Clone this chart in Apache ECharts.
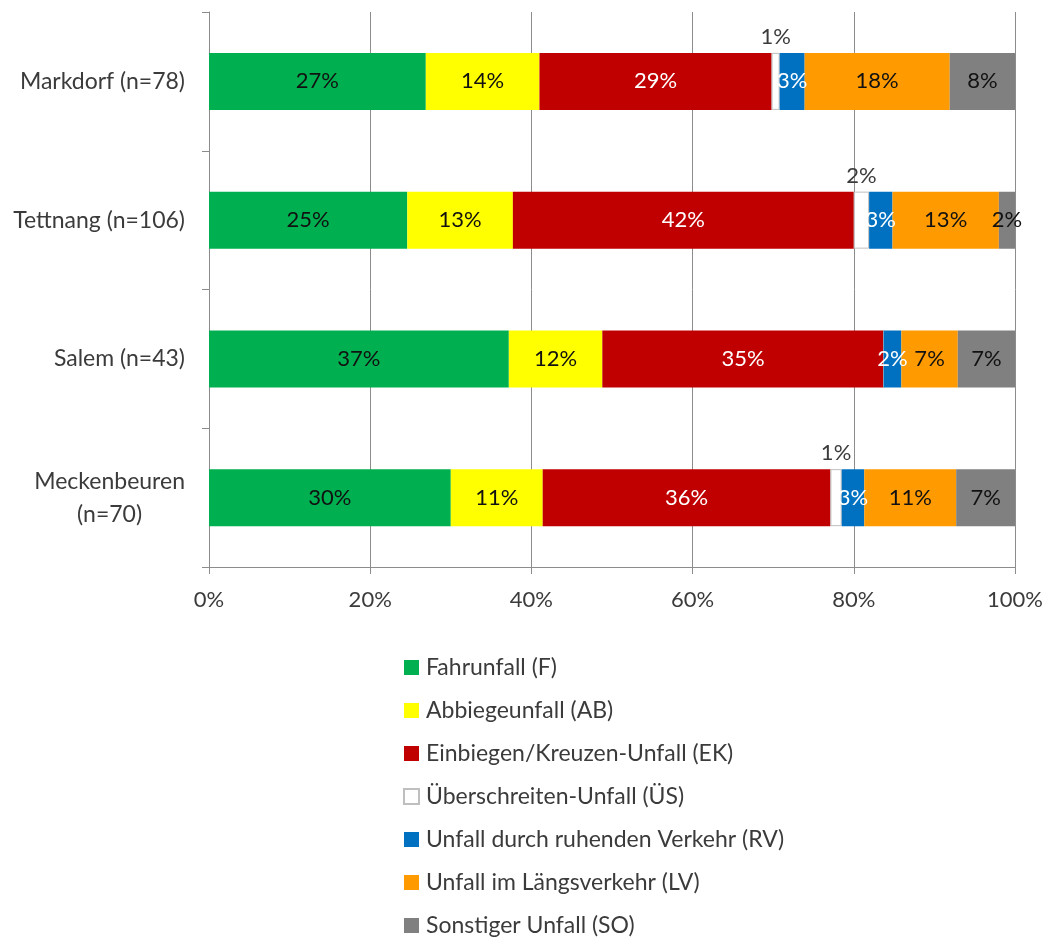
<!DOCTYPE html>
<html>
<head>
<meta charset="utf-8">
<title>Unfalltypen nach Gemeinde</title>
<script src="https://cdn.jsdelivr.net/npm/echarts@6/dist/echarts.min.js"></script>
<style>
  html, body { margin: 0; padding: 0; background: #ffffff; }
  #chart { width: 1051px; height: 940px; }
</style>
</head>
<body>
<div id="chart"></div>
<script>
// Gemeinden (top to bottom)
const categories = ['Markdorf (n=78)', 'Tettnang (n=106)', 'Salem (n=43)', 'Meckenbeuren\n(n=70)'];

// Share of each accident type per Gemeinde, in percent
const fahrunfall      = [26.9, 24.6, 37.2, 30.0];
const abbiegeunfall   = [14.1, 13.1, 11.6, 11.4];
const einbiegen       = [28.8, 42.3, 34.9, 35.7];
const ueberschreiten  = [1.0, 1.9, 0, 1.4];
const ruhenderVerkehr = [3.1, 2.9, 2.2, 2.8];
const laengsverkehr   = [18.0, 13.2, 7.0, 11.4];
const sonstige        = [8.1, 2.0, 7.1, 7.3];

const xTicks = [0, 20, 40, 60, 80, 100];

const FONT = 'Lato, "Open Sans", sans-serif';
const TEXT = '#3b3b3b';

function pctLabel(p) {
  const v = p.value;
  return v > 0 ? Math.round(v) + '%' : '';
}

function seriesFor(name, data, color, labelColor, extra) {
  return Object.assign({
    name: name,
    type: 'bar',
    stack: 'total',
    data: data,
    barWidth: 57,
    itemStyle: { color: color },
    label: {
      show: true,
      position: 'inside',
      formatter: pctLabel,
      color: labelColor,
      fontFamily: FONT,
      fontSize: 22
    },
    emphasis: { disabled: true }
  }, extra || {});
}

const chart = echarts.init(document.getElementById('chart'), null, { renderer: 'canvas' });

chart.setOption({
  animation: false,
  backgroundColor: '#ffffff',
  grid: { left: 209, right: 36, top: 12, bottom: 373, containLabel: false },
  xAxis: {
    type: 'value',
    min: 0,
    max: 100,
    interval: 20,
    axisLine: { show: true, lineStyle: { color: '#8c8c8c', width: 1 } },
    axisTick: { show: true, length: 7, lineStyle: { color: '#8c8c8c' } },
    splitLine: { show: true, lineStyle: { color: '#8c8c8c', width: 1 } },
    axisLabel: {
      margin: 22,
      color: TEXT,
      fontFamily: FONT,
      fontSize: 22,
      formatter: function (v) { return xTicks.indexOf(v) >= 0 ? v + '%' : ''; }
    }
  },
  yAxis: {
    type: 'category',
    data: categories,
    inverse: true,
    axisLine: { show: true, lineStyle: { color: '#8c8c8c', width: 1 } },
    axisTick: { show: true, length: 7, alignWithLabel: false, lineStyle: { color: '#8c8c8c' } },
    splitLine: { show: false },
    axisLabel: {
      margin: 24,
      color: TEXT,
      fontFamily: FONT,
      fontSize: 23,
      formatter: function (v) {
        return v.split('\n').map(function (line) { return '{c|' + line + '}'; }).join('\n');
      },
      rich: {
        c: { align: 'center', color: TEXT, fontFamily: FONT, fontSize: 23, lineHeight: 33 }
      }
    }
  },
  legend: {
    orient: 'vertical',
    left: 403,
    top: 656,
    height: 284,
    padding: 0,
    itemWidth: 15,
    itemHeight: 15,
    itemGap: 20,
    icon: 'rect',
    selectedMode: false,
    textStyle: { color: TEXT, fontFamily: FONT, fontSize: 23, lineHeight: 20.5, padding: [0, 0, 0, 2] },
    data: [
      'Fahrunfall (F)',
      'Abbiegeunfall (AB)',
      'Einbiegen/Kreuzen-Unfall (EK)',
      'Überschreiten-Unfall (ÜS)',
      'Unfall durch ruhenden Verkehr (RV)',
      'Unfall im Längsverkehr (LV)',
      'Sonstiger Unfall (SO)'
    ]
  },
  series: [
    seriesFor('Fahrunfall (F)', fahrunfall, '#00b050', '#111111'),
    seriesFor('Abbiegeunfall (AB)', abbiegeunfall, '#ffff00', '#111111'),
    seriesFor('Einbiegen/Kreuzen-Unfall (EK)', einbiegen, '#c00000', '#ffffff'),
    seriesFor('Überschreiten-Unfall (ÜS)', ueberschreiten, '#ffffff', '#111111', {
      itemStyle: { color: '#ffffff', borderColor: '#bfbfbf', borderWidth: 1 },
      label: {
        show: true,
        position: 'top',
        distance: 5,
        formatter: pctLabel,
        color: TEXT,
        fontFamily: FONT,
        fontSize: 22
      }
    }),
    seriesFor('Unfall durch ruhenden Verkehr (RV)', ruhenderVerkehr, '#0070c0', '#ffffff'),
    seriesFor('Unfall im Längsverkehr (LV)', laengsverkehr, '#ff9a00', '#111111'),
    seriesFor('Sonstiger Unfall (SO)', sonstige, '#808080', '#111111')
  ]
});
</script>
</body>
</html>
